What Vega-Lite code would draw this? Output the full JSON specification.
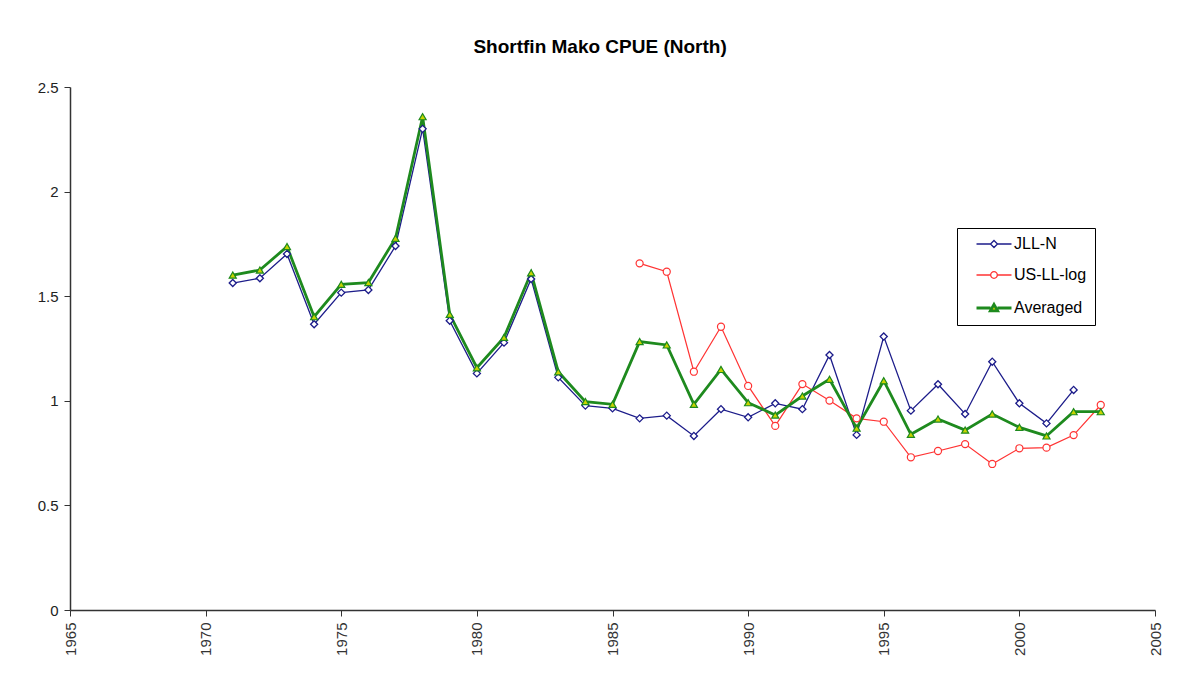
{
  "$schema": "https://vega.github.io/schema/vega-lite/v6.json",
  "autosize": {"type": "none"},
  "padding": {"left": 70, "top": 87, "right": 28, "bottom": 81},
  "width": 1085,
  "height": 523,
  "background": "white",
  "title": {
    "text": "Shortfin Mako CPUE (North)",
    "font": "Liberation Sans",
    "fontSize": 19,
    "fontWeight": "bold",
    "color": "black",
    "anchor": "middle",
    "frame": "bounds",
    "offset": 23
  },
  "config": {
    "view": {"stroke": null},
    "font": "Liberation Sans"
  },
  "data": {
    "values": [
      {"year": 1971, "series": "JLL-N", "value": 1.563},
      {"year": 1972, "series": "JLL-N", "value": 1.586},
      {"year": 1973, "series": "JLL-N", "value": 1.702},
      {"year": 1974, "series": "JLL-N", "value": 1.366},
      {"year": 1975, "series": "JLL-N", "value": 1.517},
      {"year": 1976, "series": "JLL-N", "value": 1.53},
      {"year": 1977, "series": "JLL-N", "value": 1.74},
      {"year": 1978, "series": "JLL-N", "value": 2.3},
      {"year": 1979, "series": "JLL-N", "value": 1.383},
      {"year": 1980, "series": "JLL-N", "value": 1.131},
      {"year": 1981, "series": "JLL-N", "value": 1.278},
      {"year": 1982, "series": "JLL-N", "value": 1.582},
      {"year": 1983, "series": "JLL-N", "value": 1.112},
      {"year": 1984, "series": "JLL-N", "value": 0.977},
      {"year": 1985, "series": "JLL-N", "value": 0.964},
      {"year": 1986, "series": "JLL-N", "value": 0.916},
      {"year": 1987, "series": "JLL-N", "value": 0.929},
      {"year": 1988, "series": "JLL-N", "value": 0.832},
      {"year": 1989, "series": "JLL-N", "value": 0.96},
      {"year": 1990, "series": "JLL-N", "value": 0.921},
      {"year": 1991, "series": "JLL-N", "value": 0.988},
      {"year": 1992, "series": "JLL-N", "value": 0.96},
      {"year": 1993, "series": "JLL-N", "value": 1.219},
      {"year": 1994, "series": "JLL-N", "value": 0.837},
      {"year": 1995, "series": "JLL-N", "value": 1.307},
      {"year": 1996, "series": "JLL-N", "value": 0.953},
      {"year": 1997, "series": "JLL-N", "value": 1.079},
      {"year": 1998, "series": "JLL-N", "value": 0.937},
      {"year": 1999, "series": "JLL-N", "value": 1.187},
      {"year": 2000, "series": "JLL-N", "value": 0.988},
      {"year": 2001, "series": "JLL-N", "value": 0.892},
      {"year": 2002, "series": "JLL-N", "value": 1.052},
      {"year": 1986, "series": "US-LL-log", "value": 1.657},
      {"year": 1987, "series": "US-LL-log", "value": 1.617},
      {"year": 1988, "series": "US-LL-log", "value": 1.139},
      {"year": 1989, "series": "US-LL-log", "value": 1.354},
      {"year": 1990, "series": "US-LL-log", "value": 1.071},
      {"year": 1991, "series": "US-LL-log", "value": 0.88},
      {"year": 1992, "series": "US-LL-log", "value": 1.08},
      {"year": 1993, "series": "US-LL-log", "value": 1.001},
      {"year": 1994, "series": "US-LL-log", "value": 0.916},
      {"year": 1995, "series": "US-LL-log", "value": 0.9},
      {"year": 1996, "series": "US-LL-log", "value": 0.73},
      {"year": 1997, "series": "US-LL-log", "value": 0.76},
      {"year": 1998, "series": "US-LL-log", "value": 0.793},
      {"year": 1999, "series": "US-LL-log", "value": 0.698},
      {"year": 2000, "series": "US-LL-log", "value": 0.773},
      {"year": 2001, "series": "US-LL-log", "value": 0.776},
      {"year": 2002, "series": "US-LL-log", "value": 0.836},
      {"year": 2003, "series": "US-LL-log", "value": 0.98},
      {"year": 1971, "series": "Averaged", "value": 1.601},
      {"year": 1972, "series": "Averaged", "value": 1.625},
      {"year": 1973, "series": "Averaged", "value": 1.737},
      {"year": 1974, "series": "Averaged", "value": 1.402},
      {"year": 1975, "series": "Averaged", "value": 1.557},
      {"year": 1976, "series": "Averaged", "value": 1.565},
      {"year": 1977, "series": "Averaged", "value": 1.777},
      {"year": 1978, "series": "Averaged", "value": 2.358},
      {"year": 1979, "series": "Averaged", "value": 1.413},
      {"year": 1980, "series": "Averaged", "value": 1.158},
      {"year": 1981, "series": "Averaged", "value": 1.303},
      {"year": 1982, "series": "Averaged", "value": 1.612},
      {"year": 1983, "series": "Averaged", "value": 1.139},
      {"year": 1984, "series": "Averaged", "value": 0.996},
      {"year": 1985, "series": "Averaged", "value": 0.983},
      {"year": 1986, "series": "Averaged", "value": 1.283},
      {"year": 1987, "series": "Averaged", "value": 1.267},
      {"year": 1988, "series": "Averaged", "value": 0.983},
      {"year": 1989, "series": "Averaged", "value": 1.15},
      {"year": 1990, "series": "Averaged", "value": 0.991},
      {"year": 1991, "series": "Averaged", "value": 0.932},
      {"year": 1992, "series": "Averaged", "value": 1.023},
      {"year": 1993, "series": "Averaged", "value": 1.103},
      {"year": 1994, "series": "Averaged", "value": 0.869},
      {"year": 1995, "series": "Averaged", "value": 1.096},
      {"year": 1996, "series": "Averaged", "value": 0.84},
      {"year": 1997, "series": "Averaged", "value": 0.913},
      {"year": 1998, "series": "Averaged", "value": 0.86},
      {"year": 1999, "series": "Averaged", "value": 0.937},
      {"year": 2000, "series": "Averaged", "value": 0.873},
      {"year": 2001, "series": "Averaged", "value": 0.832},
      {"year": 2002, "series": "Averaged", "value": 0.948},
      {"year": 2003, "series": "Averaged", "value": 0.948}
    ]
  },
  "encoding": {
    "x": {
      "field": "year",
      "type": "quantitative",
      "title": null,
      "scale": {"domain": [1965, 2005], "nice": false, "zero": false},
      "axis": {
        "values": [1965, 1970, 1975, 1980, 1985, 1990, 1995, 2000, 2005],
        "format": "d",
        "labelAngle": -90,
        "labelAlign": "right",
        "labelBaseline": "middle",
        "labelFontSize": 15,
        "labelColor": "#333333",
        "labelPadding": 6,
        "tickSize": 6,
        "tickColor": "#333333",
        "domainColor": "#333333",
        "domainWidth": 1.5,
        "grid": false
      }
    },
    "y": {
      "field": "value",
      "type": "quantitative",
      "title": null,
      "scale": {"domain": [0, 2.5], "nice": false},
      "axis": {
        "values": [0, 0.5, 1, 1.5, 2, 2.5],
        "format": "~g",
        "labelFontSize": 15,
        "labelColor": "#222222",
        "labelPadding": 6,
        "tickSize": 6,
        "tickColor": "#333333",
        "domainColor": "#333333",
        "domainWidth": 1.5,
        "grid": false
      }
    },
    "color": {
      "field": "series",
      "type": "nominal",
      "sort": ["JLL-N", "US-LL-log", "Averaged"],
      "scale": {"domain": ["JLL-N", "US-LL-log", "Averaged"], "range": ["#1c1c8a", "#ff3333", "#1e8a1e"]},
      "legend": {
        "title": null,
        "orient": "none",
        "legendX": 887,
        "legendY": 141,
        "strokeColor": "black",
        "fillColor": "white",
        "padding": 8,
        "symbolOffset": 21,
        "symbolSize": 306,
        "symbolType": "M-2,0L2,0",
        "symbolStrokeWidth": 1.3,
        "labelFontSize": 16,
        "labelColor": "black",
        "labelOffset": 12,
        "rowPadding": 15,
        "encode": {
          "symbols": {
            "update": {
              "shape": {"signal": "datum.value === 'JLL-N' ? 'M-2,0L-0.4,0M0.4,0L2,0M0,-0.4L0.4,0L0,0.4L-0.4,0Z' : datum.value === 'US-LL-log' ? 'M-2,0L-0.38,0M0.38,0L2,0M0.38,0A0.38,0.38 0 1,1 -0.38,0A0.38,0.38 0 1,1 0.38,0Z' : 'M-2,0L-0.4,0M0.4,0L2,0M0,-0.42L0.42,0.32L-0.42,0.32Z'"},
              "fill": {"signal": "datum.value === 'Averaged' ? '#c8d400' : 'white'"},
              "fillOpacity": {"value": 1},
              "strokeWidth": {"signal": "datum.value === 'Averaged' ? 2.8 : 1.3"}
            }
          }
        }
      }
    }
  },
  "layer": [
    {
      "transform": [{"filter": "datum.series === 'JLL-N'"}],
      "mark": {"type": "line", "strokeWidth": 1.3}
    },
    {
      "transform": [{"filter": "datum.series === 'US-LL-log'"}],
      "mark": {"type": "line", "strokeWidth": 1.2}
    },
    {
      "transform": [{"filter": "datum.series === 'Averaged'"}],
      "mark": {"type": "line", "strokeWidth": 2.8}
    },
    {
      "transform": [{"filter": "datum.series === 'JLL-N'"}],
      "mark": {"type": "point", "shape": "diamond", "filled": true, "fill": "white", "stroke": "#1c1c8a", "strokeWidth": 1.3, "size": 50, "opacity": 1, "fillOpacity": 1},
      "encoding": {"color": null}
    },
    {
      "transform": [{"filter": "datum.series === 'US-LL-log'"}],
      "mark": {"type": "point", "shape": "circle", "filled": true, "fill": "white", "stroke": "#ff3333", "strokeWidth": 1.2, "size": 50, "opacity": 1, "fillOpacity": 1},
      "encoding": {"color": null}
    },
    {
      "transform": [{"filter": "datum.series === 'Averaged'"}],
      "mark": {"type": "point", "shape": "triangle-up", "filled": true, "fill": "#c8d400", "stroke": "#1e8a1e", "strokeWidth": 1.2, "size": 50, "opacity": 1, "fillOpacity": 1},
      "encoding": {"color": null}
    }
  ]
}
